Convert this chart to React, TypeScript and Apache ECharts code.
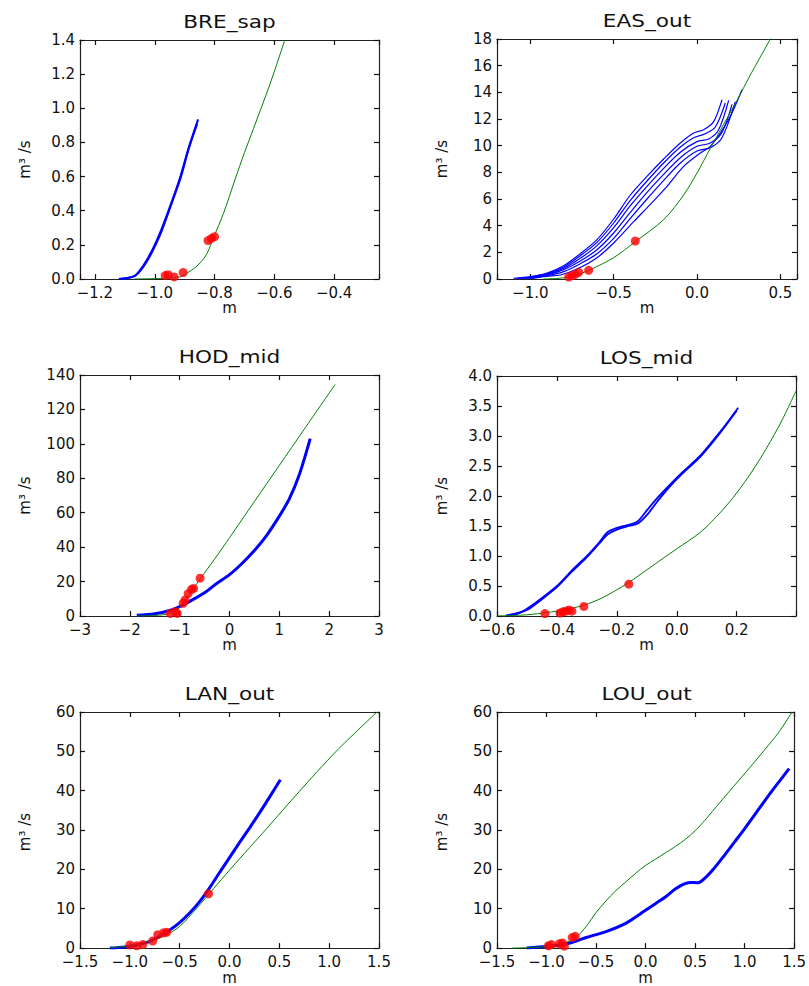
import React, { useEffect, useRef } from "react";
import * as echarts from "echarts";

// ---------- tick values ----------
const breXTicks = [-1.2, -1.0, -0.8, -0.6, -0.4];
const breYTicks = [0, 0.2, 0.4, 0.6, 0.8, 1.0, 1.2, 1.4];
const easXTicks = [-1.0, -0.5, 0.0, 0.5];
const easYTicks = [0, 2, 4, 6, 8, 10, 12, 14, 16, 18];
const hodXTicks = [-3, -2, -1, 0, 1, 2, 3];
const hodYTicks = [0, 20, 40, 60, 80, 100, 120, 140];
const losXTicks = [-0.6, -0.4, -0.2, 0.0, 0.2];
const losYTicks = [0, 0.5, 1.0, 1.5, 2.0, 2.5, 3.0, 3.5, 4.0];
const lanXTicks = [-1.5, -1.0, -0.5, 0.0, 0.5, 1.0, 1.5];
const lanYTicks = [0, 10, 20, 30, 40, 50, 60];
const louXTicks = [-1.5, -1.0, -0.5, 0.0, 0.5, 1.0, 1.5];
const louYTicks = [0, 10, 20, 30, 40, 50, 60];

// ---------- BRE_sap ----------
const breBlueA = [[-1.12, 0], [-1.1, 0.004], [-1.07, 0.015], [-1.05, 0.05], [-1.027, 0.11], [-1.0, 0.2], [-0.98, 0.28], [-0.95, 0.42], [-0.916, 0.59], [-0.888, 0.76], [-0.855, 0.935]];
const breBlueB = [[-1.11, 0], [-1.09, 0.006], [-1.065, 0.02], [-1.045, 0.055], [-1.022, 0.115], [-0.996, 0.205], [-0.976, 0.285], [-0.947, 0.425], [-0.913, 0.595], [-0.886, 0.765], [-0.858, 0.91]];
const breGreen = [[-1.07, 0], [-1.0, 0.002], [-0.95, 0.006], [-0.916, 0.012], [-0.893, 0.034], [-0.87, 0.06], [-0.848, 0.095], [-0.825, 0.15], [-0.804, 0.24], [-0.77, 0.385], [-0.732, 0.58], [-0.7, 0.74], [-0.67, 0.88], [-0.615, 1.14], [-0.565, 1.4]];
const breRed = [[-0.965, 0.02], [-0.955, 0.025], [-0.935, 0.012], [-0.905, 0.038], [-0.822, 0.225], [-0.81, 0.238], [-0.8, 0.248]];

// ---------- EAS_out ----------
const easBlue1 = [[-1.1, 0.05], [-1.0, 0.18], [-0.9, 0.45], [-0.8, 1.0], [-0.7, 1.9], [-0.6, 2.95], [-0.5, 4.5], [-0.4, 6.3], [-0.3, 7.7], [-0.2, 9.0], [-0.1, 10.2], [-0.02, 10.95], [0.04, 11.2], [0.1, 11.8], [0.15, 13.45]];
const easBlue2 = [[-1.08, 0.05], [-1.0, 0.15], [-0.9, 0.4], [-0.8, 0.9], [-0.7, 1.75], [-0.6, 2.75], [-0.5, 4.2], [-0.4, 5.9], [-0.3, 7.35], [-0.2, 8.7], [-0.1, 9.9], [-0.02, 10.6], [0.05, 10.9], [0.11, 11.4], [0.17, 13.2]];
const easBlue3 = [[-1.06, 0.04], [-1.0, 0.12], [-0.9, 0.35], [-0.8, 0.8], [-0.7, 1.55], [-0.6, 2.5], [-0.5, 3.85], [-0.4, 5.5], [-0.3, 6.95], [-0.2, 8.3], [-0.1, 9.5], [0.0, 10.3], [0.07, 10.5], [0.13, 11.2], [0.19, 13.4]];
const easBlue4 = [[-1.04, 0.04], [-0.95, 0.18], [-0.9, 0.3], [-0.8, 0.7], [-0.7, 1.35], [-0.6, 2.2], [-0.5, 3.45], [-0.4, 5.0], [-0.3, 6.5], [-0.2, 7.85], [-0.1, 9.1], [0.0, 9.95], [0.08, 10.2], [0.15, 11.0], [0.21, 13.1]];
const easBlue5 = [[-1.02, 0.03], [-0.9, 0.25], [-0.8, 0.55], [-0.7, 1.15], [-0.6, 1.9], [-0.5, 3.05], [-0.4, 4.55], [-0.3, 6.0], [-0.2, 7.4], [-0.1, 8.7], [0.0, 9.6], [0.08, 9.85], [0.15, 10.6], [0.23, 13.3]];
const easBlue6 = [[-1.0, 0.03], [-0.9, 0.2], [-0.82, 0.3], [-0.72, 0.75], [-0.6, 1.6], [-0.5, 2.7], [-0.38, 4.3], [-0.28, 5.6], [-0.18, 6.95], [-0.08, 8.45], [0.02, 9.45], [0.08, 9.95], [0.14, 10.95], [0.2, 12.2], [0.27, 14.2]];
const easGreen = [[-0.92, 0], [-0.85, 0.03], [-0.78, 0.12], [-0.74, 0.22], [-0.64, 0.7], [-0.5, 1.6], [-0.37, 2.8], [-0.2, 4.45], [-0.08, 6.3], [0.0, 7.95], [0.08, 9.8], [0.16, 11.6], [0.24, 13.4], [0.32, 15.3], [0.445, 18.1]];
const easRed = [[-0.77, 0.15], [-0.75, 0.25], [-0.73, 0.35], [-0.71, 0.5], [-0.65, 0.65], [-0.37, 2.85]];

// ---------- HOD_mid ----------
const hodBlue = [[-1.86, 0.4], [-1.5, 1.3], [-1.2, 3.2], [-1.0, 5.5], [-0.8, 8.5], [-0.5, 13.5], [-0.25, 19], [0, 24], [0.25, 30.5], [0.5, 38], [0.75, 47], [1.0, 58], [1.2, 68], [1.4, 82], [1.62, 103]];
const hodGreen = [[-1.86, 0], [-1.5, 0.3], [-1.2, 1.5], [-1.0, 5], [-0.9, 8.5], [-0.75, 15], [-0.59, 21.5], [-0.3, 33], [0, 45.5], [0.5, 66.5], [1.0, 87.5], [1.5, 108.5], [2.12, 134.5]];
const hodRed = [[-1.19, 1.5], [-1.09, 2.5], [-1.05, 1.5], [-0.93, 7.4], [-0.89, 9.3], [-0.83, 13], [-0.76, 15.5], [-0.72, 16], [-0.59, 22]];

// ---------- LOS_mid ----------
const losBlueA = [[-0.57, 0.01], [-0.53, 0.04], [-0.5, 0.12], [-0.45, 0.3], [-0.4, 0.5], [-0.35, 0.76], [-0.3, 1.0], [-0.26, 1.22], [-0.23, 1.4], [-0.2, 1.47], [-0.16, 1.52], [-0.13, 1.58], [-0.1, 1.76], [-0.066, 1.96], [-0.03, 2.15], [0.02, 2.4], [0.08, 2.68], [0.14, 3.04], [0.18, 3.3], [0.205, 3.47]];
const losBlueB = [[-0.56, 0.02], [-0.5, 0.1], [-0.45, 0.28], [-0.4, 0.48], [-0.35, 0.74], [-0.3, 0.98], [-0.26, 1.2], [-0.23, 1.36], [-0.2, 1.44], [-0.16, 1.5], [-0.13, 1.54], [-0.1, 1.68], [-0.066, 1.9], [-0.03, 2.12], [0.02, 2.38], [0.08, 2.66], [0.14, 3.02], [0.2, 3.42]];
const losGreen = [[-0.6, 0], [-0.5, 0.02], [-0.43, 0.06], [-0.38, 0.1], [-0.31, 0.18], [-0.25, 0.3], [-0.166, 0.54], [-0.08, 0.84], [0.0, 1.12], [0.08, 1.4], [0.15, 1.75], [0.2, 2.05], [0.25, 2.4], [0.3, 2.8], [0.35, 3.25], [0.398, 3.75]];
const losRed = [[-0.44, 0.04], [-0.39, 0.05], [-0.38, 0.07], [-0.37, 0.08], [-0.36, 0.1], [-0.35, 0.08], [-0.31, 0.16], [-0.16, 0.53]];

// ---------- LAN_out ----------
const lanBlue = [[-1.2, 0], [-1.05, 0.3], [-0.9, 1.0], [-0.8, 1.7], [-0.7, 3.0], [-0.6, 4.6], [-0.5, 6.5], [-0.4, 8.9], [-0.3, 11.8], [-0.2, 15.3], [-0.1, 19.2], [0.0, 23.0], [0.1, 26.8], [0.2, 30.5], [0.3, 34.3], [0.4, 38.3], [0.51, 42.8]];
const lanGreen = [[-1.2, 0.1], [-1.0, 0.6], [-0.8, 1.8], [-0.66, 3.0], [-0.5, 5.5], [-0.33, 10.1], [-0.16, 15.1], [0.0, 19.8], [0.2, 25.5], [0.37, 30.3], [0.7, 39.8], [1.07, 50], [1.48, 60]];
const lanRed = [[-1.0, 0.8], [-0.93, 0.6], [-0.87, 0.9], [-0.77, 1.8], [-0.72, 3.4], [-0.66, 3.9], [-0.63, 4.0], [-0.21, 13.8]];

// ---------- LOU_out ----------
const louBlue = [[-1.2, 0.05], [-1.0, 0.4], [-0.83, 0.9], [-0.7, 1.8], [-0.6, 2.7], [-0.4, 4.2], [-0.2, 6.3], [0.0, 9.6], [0.1, 11.3], [0.2, 13.0], [0.3, 15.0], [0.38, 16.2], [0.45, 16.7], [0.53, 16.6], [0.6, 17.8], [0.7, 20.5], [0.8, 23.7], [0.9, 27], [1.0, 30.3], [1.1, 33.8], [1.2, 37.3], [1.3, 40.7], [1.45, 45.6]];
const louGreen = [[-1.35, 0], [-1.1, 0.2], [-0.9, 0.7], [-0.75, 2.0], [-0.68, 3.2], [-0.6, 5.5], [-0.5, 9.0], [-0.4, 12], [-0.3, 14.6], [-0.2, 16.8], [-0.1, 19.0], [0.0, 21.0], [0.1, 22.6], [0.2, 24.2], [0.3, 25.8], [0.4, 27.6], [0.5, 29.8], [0.6, 32.5], [0.75, 37], [0.9, 41.4], [1.05, 45.8], [1.2, 50.3], [1.35, 55], [1.48, 60]];
const louRed = [[-0.98, 0.6], [-0.95, 0.9], [-0.87, 1.1], [-0.84, 1.3], [-0.82, 0.5], [-0.74, 2.7], [-0.71, 3.0]];

// ---------- panels ----------
const panels = [
  { title: "BRE_sap", rect: [80, 40, 299, 239], x: [-1.25, -0.25], y: [0, 1.4], xs: 5, ys: 7, xt: breXTicks, yt: breYTicks, xd: 1, yd: 1, blue: [breBlueA, breBlueB], bw: 2, green: breGreen, red: breRed },
  { title: "EAS_out", rect: [497, 39, 300, 240], x: [-1.2, 0.6], y: [0, 18], xs: 4, ys: 9, xt: easXTicks, yt: easYTicks, xd: 1, yd: 0, blue: [easBlue1, easBlue2, easBlue3, easBlue4, easBlue5, easBlue6], bw: 1.2, green: easGreen, red: easRed },
  { title: "HOD_mid", rect: [80, 375, 299, 241], x: [-3, 3], y: [0, 140], xs: 6, ys: 7, xt: hodXTicks, yt: hodYTicks, xd: 0, yd: 0, blue: [hodBlue], bw: 3, green: hodGreen, red: hodRed },
  { title: "LOS_mid", rect: [497, 376, 299, 240], x: [-0.6, 0.398], y: [0, 4], xs: 5, ys: 8, xt: losXTicks, yt: losYTicks, xd: 1, yd: 1, blue: [losBlueA, losBlueB], bw: 1.8, green: losGreen, red: losRed },
  { title: "LAN_out", rect: [80, 712, 299, 240], x: [-1.5, 1.5], y: [0, 60], xs: 6, ys: 6, xt: lanXTicks, yt: lanYTicks, xd: 1, yd: 0, blue: [lanBlue], bw: 3, green: lanGreen, red: lanRed },
  { title: "LOU_out", rect: [497, 712, 299, 240], x: [-1.5, 1.5], y: [0, 60], xs: 6, ys: 6, xt: louXTicks, yt: louYTicks, xd: 1, yd: 0, blue: [louBlue], bw: 3, green: louGreen, red: louRed },
];

const FONT = "DejaVu Sans";
const TXT = "#111";

function fmt(d: number) {
  return (v: number) => v.toFixed(d).replace("-", "\u2212");
}

export default function App() {
  const ref = useRef<HTMLDivElement>(null);
  useEffect(() => {
    if (!ref.current) return;
    const chart = echarts.init(ref.current, null, { renderer: "svg" });
    const grid: any[] = [];
    const xAxis: any[] = [];
    const yAxis: any[] = [];
    const series: any[] = [];
    const graphic: any[] = [];
    panels.forEach((p, i) => {
      const [l, t, w, h] = p.rect;
      grid.push({ left: l, top: t, width: w, height: h, show: false });
      const tick = () => ({ show: true, inside: true, length: 5, lineStyle: { color: "#111", width: 1.2 } });
      const line = { show: true, onZero: false, lineStyle: { color: "#222", width: 1.2 } };
      const xTickAxis = (pos: string, labels: boolean) => ({
        type: "value", gridIndex: i, position: pos, min: p.x[0], max: p.x[1], splitNumber: p.xs,
        axisLine: line, splitLine: { show: false },
        axisTick: tick(),
        axisLabel: { show: labels, customValues: p.xt, formatter: fmt(p.xd), fontSize: 15, fontFamily: FONT, color: TXT, margin: 6 },
      });
      const yTickAxis = (pos: string, labels: boolean) => ({
        type: "value", gridIndex: i, position: pos, min: p.y[0], max: p.y[1], splitNumber: p.ys,
        axisLine: line, splitLine: { show: false },
        axisTick: tick(),
        axisLabel: { show: labels, customValues: p.yt, formatter: fmt(p.yd), fontSize: 15, fontFamily: FONT, color: TXT, margin: 5 },
      });
      xAxis.push({
        ...xTickAxis("bottom", true),
        name: "m", nameLocation: "middle", nameGap: 20, nameTextStyle: { fontSize: 15, fontFamily: FONT, color: TXT },
      });
      xAxis.push(xTickAxis("top", false));
      yAxis.push(yTickAxis("left", true));
      yAxis.push(yTickAxis("right", false));
      p.blue.forEach((b) => {
        series.push({
          type: "line", xAxisIndex: 2 * i, yAxisIndex: 2 * i, data: b, showSymbol: false,
          smooth: 0.3, lineStyle: { color: "#0000ff", width: p.bw }, z: 2,
        });
      });
      series.push({
        type: "line", xAxisIndex: 2 * i, yAxisIndex: 2 * i, data: p.green, showSymbol: false,
        smooth: 0.3, lineStyle: { color: "#008000", width: 1 }, z: 3,
      });
      series.push({
        type: "scatter", xAxisIndex: 2 * i, yAxisIndex: 2 * i, data: p.red, symbolSize: 9,
        itemStyle: { color: "#ff0000" }, z: 4,
      });
      graphic.push({
        type: "text", x: l + w / 2, y: t - 18, scaleX: 1.2, originX: 0, originY: 0,
        style: { text: p.title, fontSize: 18, fontFamily: FONT, fill: TXT, textAlign: "center", textVerticalAlign: "middle" },
      });
      graphic.push({
        type: "text", x: l - 55, y: t + h / 2, rotation: Math.PI / 2,
        style: { text: "m\u00b3 /s", fontSize: 15, fontFamily: FONT, fill: TXT, textAlign: "center", textVerticalAlign: "middle" },
      });
    });
    chart.setOption({
      animation: false,
      backgroundColor: "#ffffff",
      grid, xAxis, yAxis, series, graphic,
    });
    return () => chart.dispose();
  }, []);
  return <div ref={ref} style={{ position: "absolute", left: 0, top: 0, width: 809, height: 986 }} />;
}
